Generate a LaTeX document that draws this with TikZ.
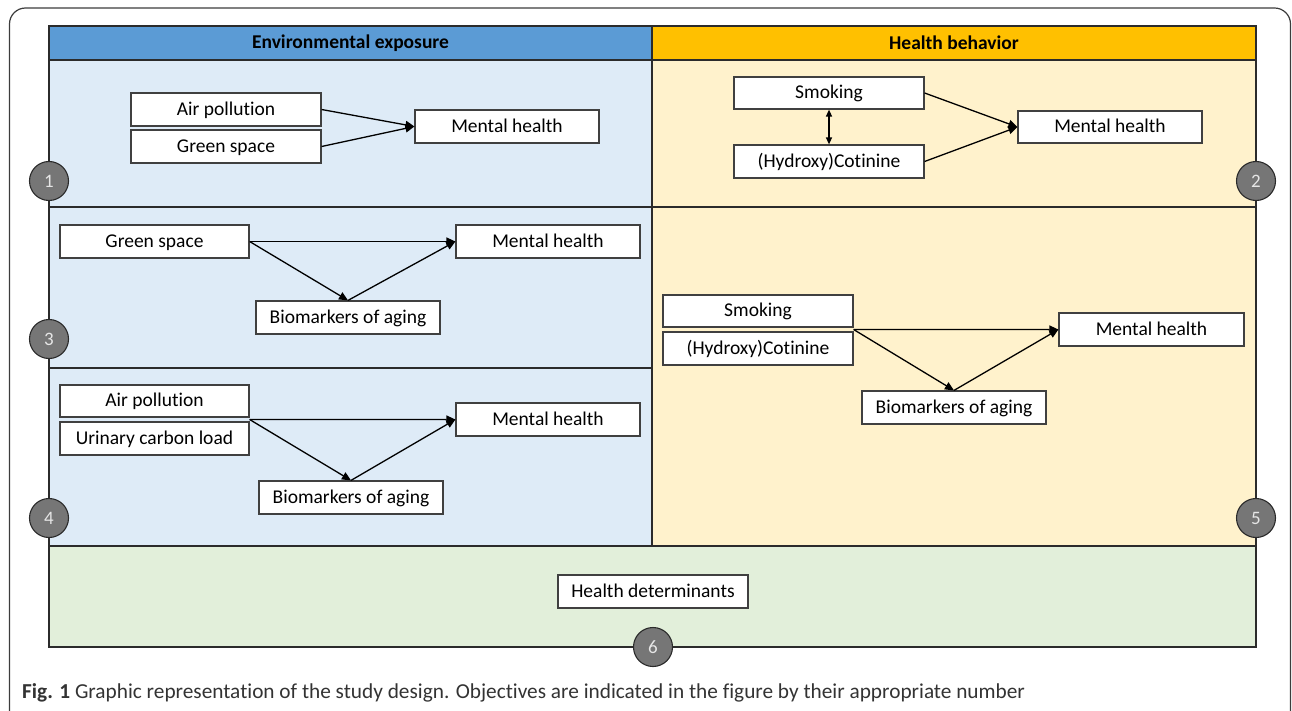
\documentclass[tikz,border=0pt]{standalone}
\usepackage{fontspec}
\setmainfont{Carlito}[Ligatures=NoCommon]
\usetikzlibrary{arrows.meta,calc}
\definecolor{hblue}{HTML}{5B9BD5}
\definecolor{lblue}{HTML}{DEEBF7}
\definecolor{horange}{HTML}{FFC000}
\definecolor{lyellow}{HTML}{FFF2CC}
\definecolor{lgreen}{HTML}{E2EFDA}
\definecolor{numfill}{HTML}{767676}
\definecolor{numline}{HTML}{2A2A2A}
\definecolor{numtext}{HTML}{E6E6E6}
\definecolor{boxline}{HTML}{404040}
\definecolor{panelline}{HTML}{2B2B2B}
\definecolor{framecol}{HTML}{3C3C3C}
\definecolor{captext}{HTML}{333333}
\begin{document}
\begin{tikzpicture}[x=1pt,y=-1pt,
  box/.style={draw=boxline, line width=1.2pt, fill=white, inner sep=0pt,
    minimum height=33pt, text height=14.6pt, text depth=2.8pt,
    font=\fontsize{19.5}{21}\selectfont},
  wbox/.style={box, minimum width=190pt},
  mbox/.style={box, minimum width=184pt},
  arr/.style={-{Triangle[length=9pt,width=8pt]}, line width=1.3pt},
  darr/.style={{Triangle[length=7pt,width=6pt]}-{Triangle[length=7pt,width=6pt]}, line width=1.3pt},
  num/.style={circle, draw=numline, fill=numfill, line width=1.1pt, minimum size=39pt,
    inner sep=0pt, text=numtext, font=\fontsize{19}{20}\selectfont},
  panel/.style={draw=panelline, line width=1.5pt},
  hdr/.style={font=\bfseries\fontsize{19.5}{21}\selectfont}]
\useasboundingbox (0,0) rectangle (1292,711);
\begin{scope}
  \clip (0,0) rectangle (1292,711);
  \draw[line width=1.2pt, rounded corners=16pt, draw=framecol] (9.5,8) rectangle (1290.5,730);
\end{scope}
% panels
\fill[lblue] (49,60) rectangle (652,546);
\fill[lyellow] (652,60) rectangle (1256,546);
\fill[lgreen] (49,546) rectangle (1256,647);
\fill[hblue] (49,26) rectangle (652,60);
\fill[horange] (652,26) rectangle (1256,60);
\draw[panel] (49,26) rectangle (1256,647);
\draw[panel] (49,60) -- (1256,60);
\draw[panel] (652,26) -- (652,546);
\draw[panel] (49,207) -- (1256,207);
\draw[panel] (49,368) -- (652,368);
\draw[panel] (49,546) -- (1256,546);
\node[hdr] (h1) at (350.5,43) {Environmental exposure};
\node[hdr] (h2) at (954,43) {Health behavior};
% panel 1
\node[wbox] (ap1) at (226,109.5) {Air pollution};
\node[wbox] (gs1) at (226,146.5) {Green space};
\node[mbox] (mh1) at (507,126.5) {Mental health};
\draw[arr] (ap1.east) -- (mh1.west);
\draw[arr] (gs1.east) -- (mh1.west);
% panel 2
\node[wbox, minimum height=32pt] (sm2) at (829,93) {Smoking};
\node[wbox] (hc2) at (829,161.5) {(Hydroxy)Cotinine};
\node[mbox, minimum height=32pt] (mh2) at (1110,127) {Mental health};
\draw[arr] (sm2.east) -- (mh2.west);
\draw[arr] (hc2.east) -- (mh2.west);
\draw[darr] (sm2.south) -- (hc2.north);
% panel 3
\node[wbox, minimum width=189pt] (gs3) at (154.5,241.5) {Green space};
\node[mbox] (mh3) at (548,241.5) {Mental health};
\node[mbox] (bm3) at (348,317.5) {Biomarkers of aging};
\draw[arr] (gs3.east) -- (mh3.west);
\draw[arr] (gs3.east) -- (bm3.north);
\draw[arr] (bm3.north) -- (mh3.west);
% panel 4
\node[wbox, minimum width=189pt, minimum height=32pt] (ap4) at (154.5,401) {Air pollution};
\node[wbox, minimum width=189pt] (uc4) at (154.5,438.5) {Urinary carbon load};
\node[mbox] (mh4) at (548,419.5) {Mental health};
\node[mbox] (bm4) at (351,497.5) {Biomarkers of aging};
\coordinate (j4) at ($(ap4.south east)!0.5!(uc4.north east)$);
\draw[arr] (j4) -- (mh4.west);
\draw[arr] (j4) -- (bm4.north);
\draw[arr] (bm4.north) -- (mh4.west);
% panel 5
\node[wbox, minimum height=32pt] (sm5) at (758,311) {Smoking};
\node[wbox] (hc5) at (758,348.5) {(Hydroxy)Cotinine};
\node[mbox, minimum width=185pt] (mh5) at (1151.5,329.5) {Mental health};
\node[mbox] (bm5) at (954,407.5) {Biomarkers of aging};
\coordinate (j5) at ($(sm5.south east)!0.5!(hc5.north east)$);
\draw[arr] (j5) -- (mh5.west);
\draw[arr] (j5) -- (bm5.north);
\draw[arr] (bm5.north) -- (mh5.west);
% panel 6
\node[wbox] (hd6) at (653,591.5) {Health determinants};
% numbers
\node[num] (c1) at (49,181) {1};
\node[num] (c2) at (1256,181) {2};
\node[num] (c3) at (49,339) {3};
\node[num] (c4) at (49,518) {4};
\node[num] (c5) at (1256,518) {5};
\node[num] (c6) at (653,647) {6};
% caption
\node[anchor=base west, inner sep=0pt, text=captext, font=\fontsize{21.3}{23}\selectfont] (cap) at (22,698)
  {\textbf{Fig. 1} Graphic representation of the study design. Objectives are indicated in the figure by their appropriate number};
\end{tikzpicture}
\end{document}
